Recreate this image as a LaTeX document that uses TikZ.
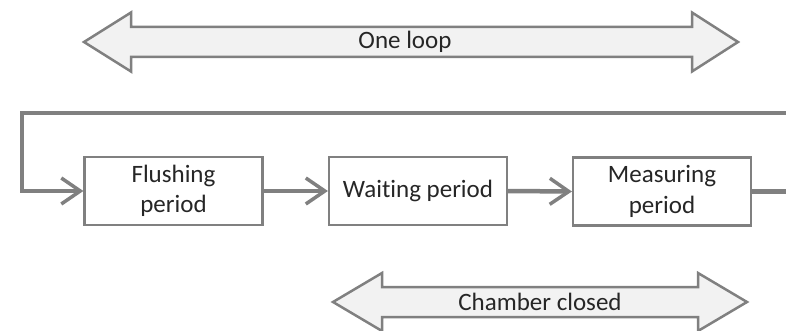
\documentclass[tikz,border=0pt]{standalone}
\usepackage{fontspec}
\setmainfont[Ligatures={NoCommon,NoRare,NoContextual}]{Carlito}
\usetikzlibrary{arrows.meta}
\definecolor{linegray}{HTML}{808080}
\definecolor{fillgray}{HTML}{F2F2F2}
\definecolor{textgray}{HTML}{262626}
\tikzset{
  periodbox/.style={draw=linegray, line width=2.2pt, fill=white, minimum width=178pt, minimum height=68pt,
    align=center, text=textgray, font=\fontsize{25}{30.5}\selectfont, inner sep=0pt},
  conn/.style={draw=linegray, line width=4.5pt, -{Straight Barb[length=19pt, width=26pt, line width=3.5pt]}},
  bigarrow/.style={draw=linegray, line width=2.5pt, fill=fillgray, line join=miter},
  arrowlabel/.style={text=textgray, font=\fontsize{25}{30}\selectfont, inner sep=0pt}
}
\begin{document}
\begin{tikzpicture}[x=1pt,y=-1pt]
\useasboundingbox (0,0) rectangle (786,331);
\clip (0,0) rectangle (786,331);
% top double arrow
\draw[bigarrow] (84,42) -- (131,12.5) -- (131,27) -- (692,27) -- (692,12.5) -- (738,42)
  -- (692,71.5) -- (692,57) -- (131,57) -- (131,71.5) -- cycle;
\node[arrowlabel] (oneloop) at (405,42) {One loop};
% boxes
\node[periodbox] (F) at (173.5,191) {Flushing\\period};
\node[periodbox] (W) at (418,191) {Wait\kern0pt ing period};
\node[periodbox] (M) at (662,191.5) {Measuring\\period};
% connectors
\draw[conn] (F.east) -- (W.west);
\draw[conn] (W.east) -- (M.west);
\coordinate (R) at (810,113);
\coordinate (L) at (22,113);
\draw[conn] (M.east) -| (R) -- (L) |- (F.west);
% bottom double arrow
\draw[bigarrow] (333,302) -- (382,273) -- (382,287) -- (698,287) -- (698,273) -- (747,302)
  -- (698,331) -- (698,317) -- (382,317) -- (382,331) -- cycle;
\node[arrowlabel] (closed) at (540,302) {Chamber closed};
\end{tikzpicture}
\end{document}
